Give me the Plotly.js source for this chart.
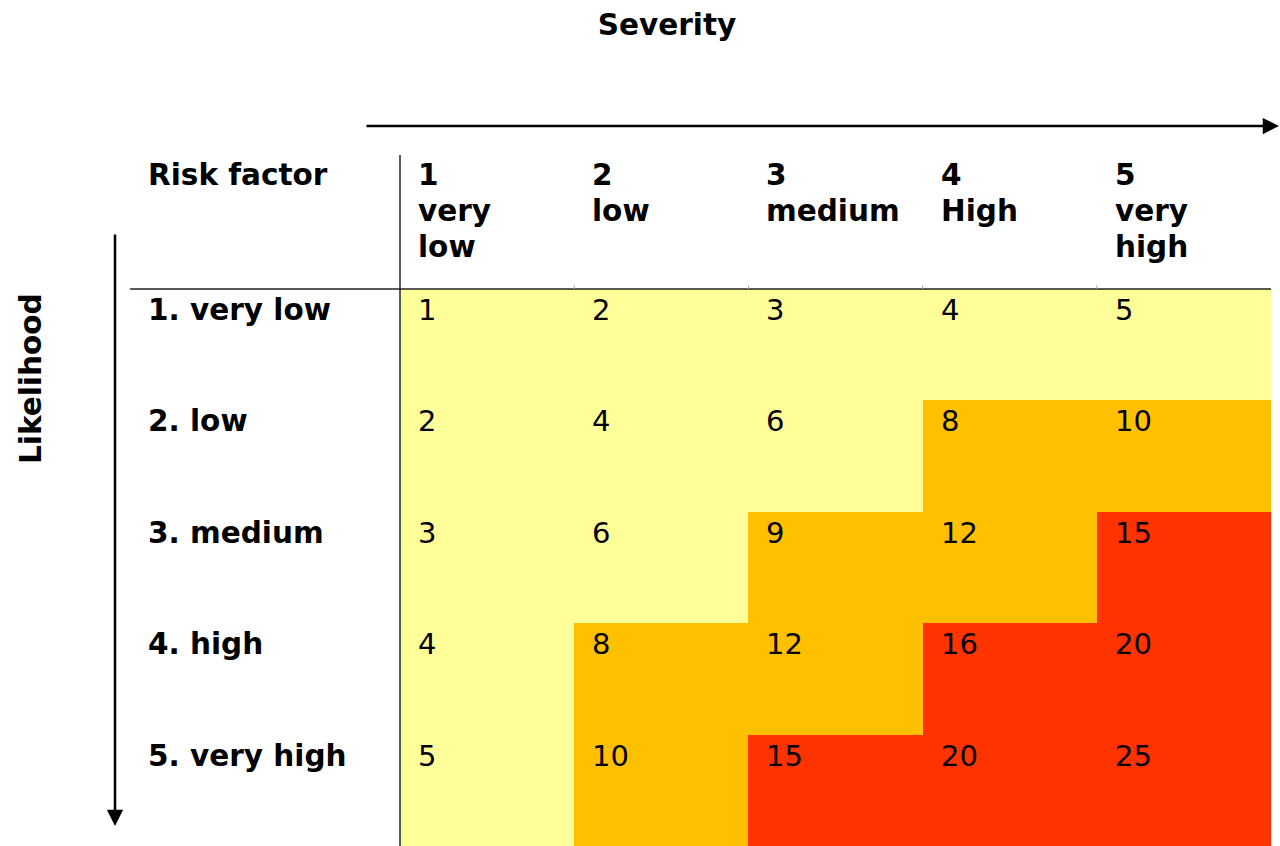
<!DOCTYPE html>
<html>
<head>
<meta charset="utf-8">
<script src="https://cdn.plot.ly/plotly-3.0.1.min.js"></script>
<style>html,body{margin:0;padding:0;background:#fff;}#chart{width:1280px;height:846px;}</style>
</head>
<body>
<div id="chart"></div>
<script>
// ---- data ----
var severityLevels = [1, 2, 3, 4, 5];
var severityLabels = ["1<br>very<br>low", "2<br>low", "3<br>medium", "4<br>High", "5<br>very<br>high"];
var likelihoodLevels = [1, 2, 3, 4, 5];
var likelihoodLabels = ["1. very low", "2. low", "3. medium", "4. high", "5. very high"];
var riskValues = [
  [1, 2, 3, 4, 5],
  [2, 4, 6, 8, 10],
  [3, 6, 9, 12, 15],
  [4, 8, 12, 16, 20],
  [5, 10, 15, 20, 25]
];
var cornerLabel = "Risk factor";
var xTitle = "Severity";
var yTitle = "Likelihood";

// ---- styling ----
var FONT = "Verdana, 'DejaVu Sans', sans-serif";
var BOLD_SIZE = 29.5, NUM_SIZE = 29;
var YELLOW = "#FFFF99", ORANGE = "#FFC000", RED = "#FF3300";
var W = 1280, H = 846, L = 400, R = 9, T = 289, B = 0;
var plotW = W - L - R, plotH = H - T - B;
function px2paperX(px) { return (px - L) / plotW; }
function px2paperY(py) { return (H - B - py) / plotH; }
var cellW = plotW / severityLevels.length;
var cellH = plotH / likelihoodLevels.length;
var LINE_STEP = 36;

var heat = {
  type: "heatmap",
  x: severityLevels,
  y: likelihoodLevels,
  z: riskValues,
  zmin: 0, zmax: 25,
  colorscale: [[0, YELLOW], [0.28, YELLOW], [0.28, ORANGE], [0.56, ORANGE], [0.56, RED], [1, RED]],
  showscale: false,
  hoverinfo: "skip",
  xgap: 0, ygap: 0
};

var annotations = [];
// cell values
for (var r = 0; r < likelihoodLevels.length; r++) {
  for (var c = 0; c < severityLevels.length; c++) {
    annotations.push({
      x: severityLevels[c], y: likelihoodLevels[r], xref: "x", yref: "y",
      text: String(riskValues[r][c]), showarrow: false,
      xanchor: "left", yanchor: "middle",
      xshift: -cellW / 2 + 16, yshift: cellH / 2 - 21,
      font: {family: FONT, size: NUM_SIZE, color: "#000"}
    });
  }
}
// column headers (one annotation per line to keep tight line spacing)
for (var c2 = 0; c2 < severityLevels.length; c2++) {
  var lines = severityLabels[c2].split("<br>");
  for (var li = 0; li < lines.length; li++) {
    annotations.push({
      x: severityLevels[c2], y: px2paperY(175 + li * LINE_STEP), xref: "x", yref: "paper",
      text: "<b>" + lines[li] + "</b>", showarrow: false,
      xanchor: "left", yanchor: "middle", align: "left",
      xshift: -cellW / 2 + 16,
      font: {family: FONT, size: BOLD_SIZE, color: "#000"}
    });
  }
}
// row labels
for (var r2 = 0; r2 < likelihoodLevels.length; r2++) {
  annotations.push({
    x: px2paperX(146), y: likelihoodLevels[r2], xref: "paper", yref: "y",
    text: "<b>" + likelihoodLabels[r2] + "</b>", showarrow: false,
    xanchor: "left", yanchor: "middle", yshift: cellH / 2 - 21,
    font: {family: FONT, size: BOLD_SIZE, color: "#000"}
  });
}
// corner label
annotations.push({
  x: px2paperX(146), y: px2paperY(175), xref: "paper", yref: "paper",
  text: "<b>" + cornerLabel + "</b>", showarrow: false,
  xanchor: "left", yanchor: "middle", align: "left",
  font: {family: FONT, size: BOLD_SIZE, color: "#000"}
});
// Likelihood rotated title
annotations.push({
  x: px2paperX(31), y: px2paperY(379), xref: "paper", yref: "paper",
  text: "<b>" + yTitle + "</b>", showarrow: false, textangle: -90,
  xanchor: "center", yanchor: "middle",
  font: {family: FONT, size: BOLD_SIZE, color: "#000"}
});
// Severity arrow
annotations.push({
  x: px2paperX(1282), y: px2paperY(126), xref: "paper", yref: "paper",
  ax: -917, ay: 0, axref: "pixel", ayref: "pixel",
  text: "", showarrow: true, arrowhead: 2, arrowsize: 1.3, arrowwidth: 2.5, arrowcolor: "#000"
});
// Likelihood arrow
annotations.push({
  x: px2paperX(115), y: px2paperY(826), xref: "paper", yref: "paper",
  ax: 0, ay: -593, axref: "pixel", ayref: "pixel",
  text: "", showarrow: true, arrowhead: 2, arrowsize: 1.3, arrowwidth: 2.5, arrowcolor: "#000"
});

var shapes = [
  {type: "line", xref: "paper", yref: "paper", x0: px2paperX(130), x1: 1, y0: 1, y1: 1,
   line: {color: "#222", width: 1.5}, layer: "above"},
  {type: "line", xref: "paper", yref: "paper", x0: 0, x1: 0, y0: 0, y1: px2paperY(155),
   line: {color: "#222", width: 1.5}, layer: "above"}
];
for (var k = 1; k < severityLevels.length; k++) {
  shapes.push({type: "line", xref: "x", yref: "paper",
    x0: severityLevels[k] - 0.5, x1: severityLevels[k] - 0.5,
    y0: 1, y1: 1 + 4 / plotH, line: {color: "#aaa", width: 1}, layer: "above"});
}

var layout = {
  width: W, height: H,
  margin: {l: L, r: R, t: T, b: B},
  paper_bgcolor: "#fff", plot_bgcolor: "#fff",
  title: {text: "<b>" + xTitle + "</b>", x: 667 / W, xref: "container", xanchor: "center",
          y: 1 - 25 / H, yref: "container", yanchor: "middle",
          font: {family: FONT, size: BOLD_SIZE, color: "#000"}},
  xaxis: {range: [0.5, 5.5], showgrid: false, zeroline: false, showticklabels: false, ticks: "", showline: false, fixedrange: true},
  yaxis: {range: [5.5, 0.5], showgrid: false, zeroline: false, showticklabels: false, ticks: "", showline: false, fixedrange: true},
  annotations: annotations,
  shapes: shapes,
  showlegend: false
};

Plotly.newPlot("chart", [heat], layout, {displayModeBar: false, staticPlot: true});
</script>
</body>
</html>
